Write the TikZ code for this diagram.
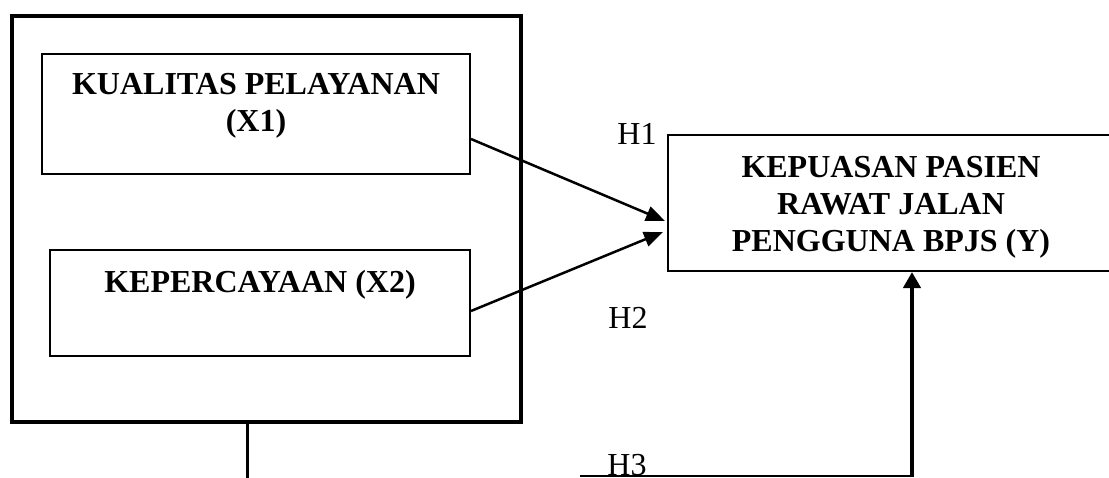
\documentclass[tikz,border=0pt]{standalone}
\usepackage{fontspec}
\setmainfont{Liberation Serif}
\usetikzlibrary{arrows.meta}
\tikzset{
  frame/.style={draw, line width=4pt, inner sep=0pt},
  varbox/.style={draw, line width=2pt, inner sep=0pt},
  boxtext/.style={font=\fontsize{32}{37}\selectfont\bfseries, align=center, inner sep=0pt},
  hlabel/.style={font=\fontsize{32}{37}\selectfont, inner sep=0pt, anchor=base},
  link/.style={line width=2.5pt, -{Triangle[length=19pt,width=15pt]}},
  uplink/.style={line width=4pt, -{Triangle[length=16pt,width=17pt]}},
  stubline/.style={line width=3pt},
  baseline/.style={line width=2pt}
}
\begin{document}
\begin{tikzpicture}[x=1pt,y=-1pt]
\useasboundingbox (0,0) rectangle (1109,477);
% outer frame
\node[frame, minimum width=509pt, minimum height=406.5pt] (outer) at (266.5,218.75) {};
% variable boxes
\node[varbox, minimum width=428pt, minimum height=120pt] (x1) at (256,114) {};
\node[boxtext, anchor=north] (x1t) at (256,73) {KUALITAS PELAYANAN\\(X1)};
\node[varbox, minimum width=420pt, minimum height=106pt] (x2) at (260,303) {};
\node[boxtext, anchor=base] (x2t) at (260,292) {KEPERCAYAAN (X2)};
\node[varbox, minimum width=446pt, minimum height=136pt] (ybox) at (891,203) {};
\node[boxtext, anchor=north] (yt) at (891,156) {KEPUASAN PASIEN\\RAWAT JALAN\\PENGGUNA BPJS (Y)};
% labels
\node[hlabel] (h1) at (637,144) {H1};
\node[hlabel] (h2) at (628,328) {H2};
\node[hlabel] (h3) at (627,475) {H3};
% connectors
\draw[link] ([yshift=-25pt]x1.east) -- ([xshift=-2pt,yshift=-18pt]ybox.west);
\draw[link] ([yshift=-8pt]x2.east) -- ([xshift=-4pt,yshift=-29pt]ybox.west);
\coordinate (stubend) at (247,478);
\draw[stubline] (outer.south -| stubend) -- (stubend);
\coordinate (h3start) at (580,476);
\coordinate (h3end) at (912,476);
\draw[baseline] (h3start) -- (h3end);
\draw[uplink] ([yshift=-1pt]h3end) -- (ybox.south -| h3end);
\end{tikzpicture}
\end{document}
